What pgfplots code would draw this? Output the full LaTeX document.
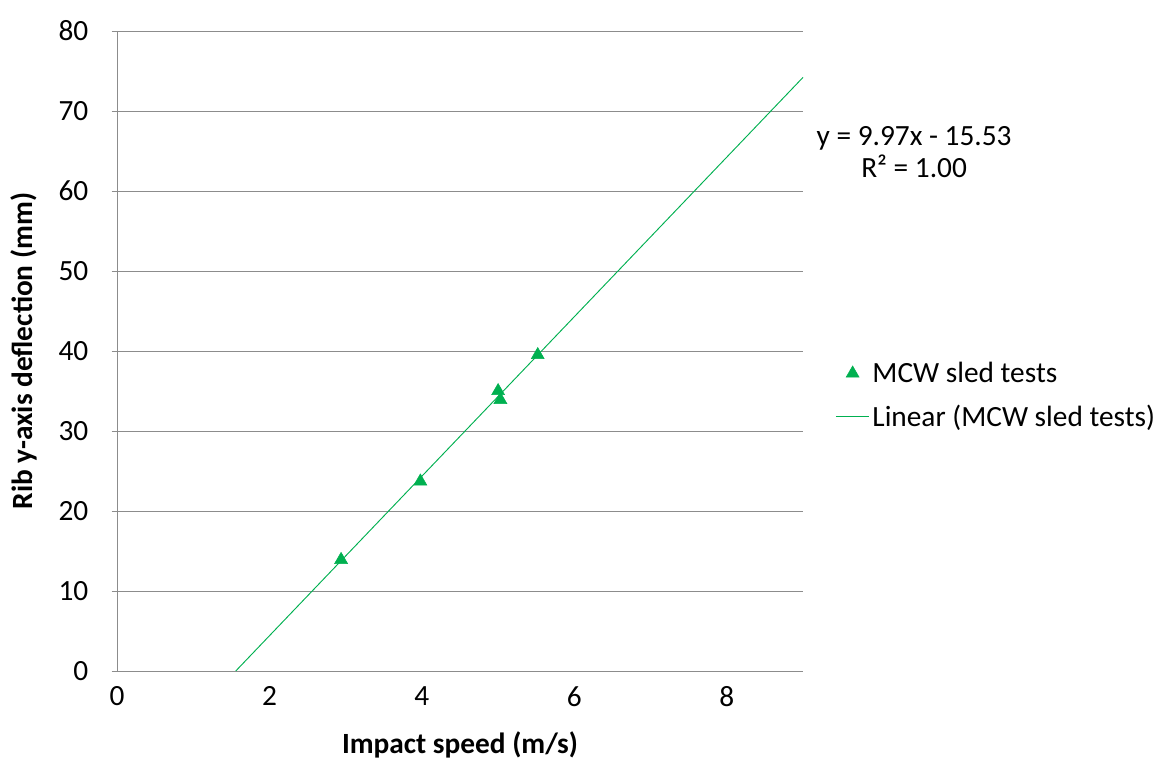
\documentclass[border=0pt]{standalone}
\usepackage{pgfplots}
\pgfplotsset{compat=1.18}
\usepackage{fontspec}
\setmainfont{Carlito}
\definecolor{xlgreen}{HTML}{00B050}
\definecolor{xlgrey}{HTML}{8C8C8C}
\pgfplotsset{
  legmark/.style={legend image code/.code={\draw[##1] plot coordinates {(12.5pt,0pt)};}},
  legline/.style={legend image code/.code={\draw[##1] (0pt,0pt) -- (25pt,0pt);}},
}
\begin{document}
\begin{tikzpicture}
\useasboundingbox (-87.75pt,-68.25pt) rectangle (778.5pt,503.25pt);
\begin{axis}[
  at={(0,0)}, anchor=south west,
  scale only axis, width=514.5pt, height=480pt,
  xmin=0, xmax=9, ymin=0, ymax=80,
  xtick={0,2,4,6,8}, ytick={0,10,...,80},
  axis x line*=bottom, axis y line*=left,
  axis line style={xlgrey, line width=0.6pt, -},
  ymajorgrids, grid style={xlgrey, line width=0.6pt},
  xtick style={draw=none},
  ytick style={xlgrey, line width=0.6pt}, tick align=outside, major tick length=4pt,
  /pgf/number format/assume math mode=true,
  ticklabel style={font=\fontsize{22}{26}\selectfont},
  xticklabel style={yshift=-4pt},
  yticklabel style={xshift=-14pt},
  xlabel={\textbf{Impact speed (m/s)}},
  ylabel={\textbf{Rib y-axis deflection (mm)}},
  label style={font=\fontsize{22}{26}\selectfont},
  xlabel style={yshift=-12pt},
  ylabel style={yshift=9pt},
  legend style={at={(rel axis cs:1.047,0.431)}, anchor=west, draw=none,
    font=\fontsize{22}{26}\selectfont, row sep=11pt, inner sep=0pt,
    /tikz/every even column/.append style={column sep=0pt}},
  legend cell align=left,
  clip=false,
]
\addplot[only marks, mark=triangle*, mark size=5.6pt, color=xlgreen, legmark]
  coordinates {(2.94,13.9) (3.98,23.7) (5.00,35.0) (5.03,33.9) (5.52,39.5)};
\addlegendentry{MCW sled tests}
\addplot[no marks, color=xlgreen, line width=0.7pt, legline]
  coordinates {(1.558,0) (9,74.2)};
\addlegendentry{Linear (MCW sled tests)}
\node[align=center, font=\fontsize{22}{24}\selectfont] at (rel axis cs:1.162,0.811)
  {y = 9.97x - 15.53\\R² = 1.00};
\end{axis}
\end{tikzpicture}
\end{document}
